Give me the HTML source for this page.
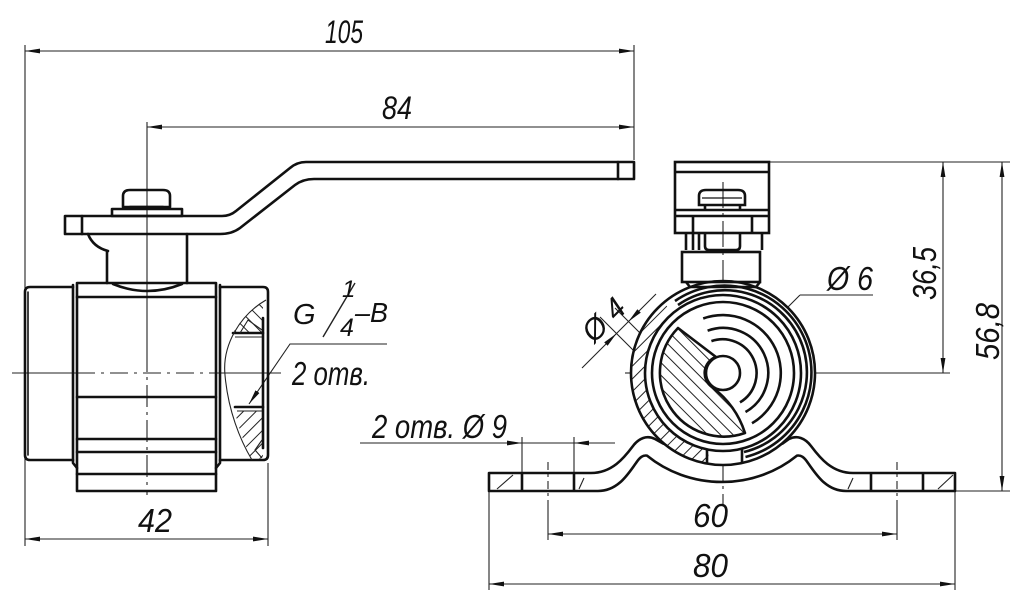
<!DOCTYPE html>
<html><head><meta charset="utf-8">
<style>
html,body{margin:0;padding:0;background:#fff;}
svg{display:block;}
text{font-family:"Liberation Sans","DejaVu Sans",sans-serif;font-style:italic;fill:#111;}
</style></head>
<body>
<svg width="1024" height="603" viewBox="0 0 1024 603" xmlns="http://www.w3.org/2000/svg">
<defs>
  <marker id="ar" viewBox="0 0 15 6" refX="15" refY="3" markerWidth="15" markerHeight="6" markerUnits="userSpaceOnUse" orient="auto-start-reverse">
    <path d="M0,0.6 L15,3 L0,5.4 Z" fill="#111"/>
  </marker>
  <pattern id="hA" patternUnits="userSpaceOnUse" width="9" height="9" patternTransform="rotate(45)">
    <line x1="4" y1="0" x2="4" y2="9" stroke="#222" stroke-width="1"/>
  </pattern>
  <pattern id="hB" patternUnits="userSpaceOnUse" width="9" height="9" patternTransform="rotate(-45)">
    <line x1="4" y1="0" x2="4" y2="9" stroke="#222" stroke-width="1"/>
  </pattern>
</defs>

<rect width="1024" height="603" fill="#fff"/>

<!-- ============ THIN LINES (dimensions, extension, centre lines) ============ -->
<g stroke="#222" stroke-width="1.1" fill="none">
  <line x1="25" y1="51" x2="634" y2="51" marker-start="url(#ar)" marker-end="url(#ar)"/>
  <line x1="25" y1="45" x2="25" y2="546"/>
  <line x1="634" y1="45" x2="634" y2="160"/>
  <line x1="147" y1="127" x2="634" y2="127" marker-start="url(#ar)" marker-end="url(#ar)"/>
  <line x1="147" y1="122" x2="147" y2="350"/>
  <line x1="147" y1="350" x2="147" y2="495" stroke-dasharray="22 5 3 5"/>
  <line x1="12" y1="373" x2="77" y2="373"/>
  <line x1="77" y1="373" x2="216" y2="373" stroke-dasharray="18 6 3 6"/>
  <line x1="216" y1="373" x2="281" y2="373"/>
  <line x1="25" y1="539" x2="268" y2="539" marker-start="url(#ar)" marker-end="url(#ar)"/>
  <line x1="268" y1="463" x2="268" y2="546"/>
  <polyline points="387,344 290,344 249,404" marker-end="url(#ar)"/>
  <line x1="323" y1="337" x2="355" y2="283" stroke-width="1.4"/>

  <line x1="770" y1="162" x2="1010" y2="162"/>
  <line x1="943" y1="162" x2="943" y2="373" marker-start="url(#ar)" marker-end="url(#ar)"/>
  <line x1="815" y1="373" x2="950" y2="373"/>
  <line x1="1002" y1="162" x2="1002" y2="491" marker-start="url(#ar)" marker-end="url(#ar)"/>
  <line x1="956" y1="491" x2="1010" y2="491"/>
  <line x1="625" y1="373" x2="815" y2="373" stroke-dasharray="22 5 3 5"/>
  <line x1="723" y1="182" x2="723" y2="505" stroke-dasharray="26 5 3 5"/>
  <line x1="873" y1="295" x2="800" y2="295"/>
  <line x1="800" y1="295" x2="690" y2="405"/>
  <line x1="615" y1="308" x2="742" y2="435"/>
  <line x1="600" y1="317" x2="700" y2="417"/>
  <line x1="582" y1="368" x2="616.5" y2="333.5" marker-end="url(#ar)"/>
  <line x1="656" y1="294" x2="628.5" y2="321.5" marker-end="url(#ar)"/>
  <line x1="616.5" y1="333.5" x2="628.5" y2="321.5"/>
  <line x1="360" y1="443" x2="522" y2="443" marker-end="url(#ar)"/>
  <line x1="615" y1="443" x2="574" y2="443" marker-end="url(#ar)"/>
  <line x1="522" y1="443" x2="574" y2="443"/>
  <line x1="522" y1="437" x2="522" y2="473"/>
  <line x1="574" y1="437" x2="574" y2="473"/>
  <line x1="548" y1="462" x2="548" y2="500" stroke-dasharray="8 4 3 4"/>
  <line x1="548" y1="500" x2="548" y2="540"/>
  <line x1="897" y1="462" x2="897" y2="500" stroke-dasharray="8 4 3 4"/>
  <line x1="897" y1="500" x2="897" y2="540"/>
  <line x1="548" y1="534" x2="897" y2="534" marker-start="url(#ar)" marker-end="url(#ar)"/>
  <line x1="489" y1="491" x2="489" y2="590"/>
  <line x1="955" y1="491" x2="955" y2="590"/>
  <line x1="489" y1="584" x2="955" y2="584" marker-start="url(#ar)" marker-end="url(#ar)"/>
</g>

<!-- ============ LEFT VIEW ============ -->
<path d="M266,300 C252,309 240,320 233,333 L263,333 L263,300 Z" fill="url(#hB)" stroke="none"/>
<path d="M235,411 L263,411 L263,458 L252,460 C245,445 238,428 235,411 Z" fill="url(#hA)" stroke="none"/>

<g fill="none" stroke="#111" stroke-width="2.6" stroke-linejoin="round" stroke-linecap="round">
  <path d="M65,216 L222,216 Q230,216 236,211 L290,168 Q297,162 306,162 L634,162 L634,179 L314,179 Q303,179 295,185 L240,228 Q232,234 220,234 L65,234 Z"/>
  <line x1="82" y1="216" x2="82" y2="234"/>
  <line x1="618" y1="162" x2="618" y2="179"/>
  <path d="M123,207 L123,196 Q123,190 130,190 L163,190 Q170,190 170,196 L170,207 Z"/>
  <rect x="112" y="209" width="70" height="7"/>
  <line x1="130" y1="207" x2="163" y2="207"/>
  <path d="M107,251 L107,283 M187,234 L187,283"/>
  <path d="M88,234 Q93,247 108,251"/>
  <rect x="77" y="283" width="139" height="208"/>
  <path d="M77,297 H216 M77,397 H216 M77,439 H216 M77,452 H216 M77,474 H216"/>
  <path d="M113,284 Q147,298 182,284"/>
  <path d="M73,287 H30 Q25,287 25,292 V455 Q25,460 30,460 H73"/>
  <path d="M73,285 V463 L77,468"/>
  <line x1="28" y1="292" x2="28" y2="455" stroke-width="1.6"/>
  <path d="M220,287 H263 Q268,287 268,292 V455 Q268,460 263,460 H220"/>
  <path d="M220,285 V463 L216,468"/>
  <line x1="263" y1="318" x2="263" y2="448"/>
  <path d="M233,333 H263 M235,407 H263"/>
</g>
<g fill="none" stroke="#222" stroke-width="1.1">
  <path d="M266,300 C240,315 222,345 225,375 C228,410 240,440 252,460"/>
  <path d="M235,337 H262 M237,411 H262"/>
  <path d="M240,333 L248,320 L262,330"/>
  <path d="M262,440 L255,450 L262,458"/>
</g>

<!-- ============ RIGHT VIEW ============ -->
<g fill="none" stroke="#111" stroke-width="2.6" stroke-linejoin="round">
  <path d="M664,444 L655,439 C647,435 639,438 633,446 C624,458 612,473 591,473 L489,473 L489,491 L598,491 C618,491 628,474 636,463 C640,457 643,455 647,455.6 A115,109 0 0 0 797,455.6 C801,455 804,457 808,463 C816,474 826,491 846,491 L955,491 L955,473 L853,473 C832,473 820,458 811,446 C805,438 797,435 789,439 L782,444"/>
  <path d="M522,473 V491 M574,473 V491 M871,473 V491 M923,473 V491"/>
</g>
<g stroke="#222" stroke-width="1.1">
  <line x1="497" y1="489" x2="513" y2="475"/>
  <line x1="579" y1="489" x2="584" y2="478"/>
  <line x1="848" y1="489" x2="853" y2="478"/>
  <line x1="938" y1="489" x2="953" y2="475"/>
</g>

<circle cx="723" cy="373" r="92" fill="#fff" stroke="none"/>
<path d="M707,463.6 A92,92 0 0 1 663.9,302.5 L672.9,313.3 A78,78 0 0 0 709.5,449.8 Z" fill="url(#hA)" stroke="none"/>
<path d="M678,328 L716,357 A17,17 0 0 0 712,387 Q736,405 745,433 A64,64 0 0 1 678,328 Z" fill="url(#hB)" stroke="#111" stroke-width="2.6" stroke-linejoin="round"/>

<g fill="none" stroke="#111" stroke-width="2.6">
  <circle cx="723" cy="373" r="92"/>
  <circle cx="723" cy="373" r="78"/>
  <circle cx="723" cy="373" r="71"/>
  <path d="M675,301 A87,87 0 1 1 745.5,457"/>
  <path d="M678,305 A82,82 0 1 1 744,452"/>
  <path d="M703.2,318.5 A58,58 0 0 1 752,423.2"/>
  <path d="M707.6,330.7 A45,45 0 0 1 745.5,412"/>
  <path d="M711.4,341.1 A34,34 0 0 1 740,402.4"/>
  <circle cx="723" cy="373" r="17" fill="#fff"/>
  <path d="M707,449 V463 M742,449 V463"/>
  <rect x="675" y="162" width="94" height="71"/>
  <line x1="675" y1="172" x2="769" y2="172"/>
  <path d="M699,205 L699,196 Q699,190 706,190 L738,190 Q745,190 745,196 L745,205 Z"/>
  <line x1="705" y1="205" x2="705" y2="210"/>
  <line x1="740" y1="205" x2="740" y2="210"/>
  <line x1="675" y1="210" x2="769" y2="210"/>
  <line x1="675" y1="216" x2="769" y2="216"/>
  <path d="M693,216 V233 M752,216 V233"/>
  <path d="M686,233 V250 M762,233 V250"/>
  <path d="M693,233 V250 M699,233 V250"/>
  <path d="M705,233 V246 Q705,250 709,250 L736,250 Q740,250 740,246 V233"/>
  <rect x="682" y="252" width="78" height="30"/>
  <path d="M686,282 L690,287 H756 L760,282"/>
</g>
<g stroke="#111" stroke-width="1.3">
  <line x1="702" y1="198" x2="742" y2="198"/>
</g>

<!-- ============ TEXT ============ -->
<text x="325" y="43" font-size="32" textLength="38" lengthAdjust="spacingAndGlyphs">105</text>
<text x="382" y="119" font-size="32" textLength="30" lengthAdjust="spacingAndGlyphs">84</text>
<text x="138" y="532" font-size="33" textLength="34" lengthAdjust="spacingAndGlyphs">42</text>
<text x="693" y="527" font-size="33" textLength="35" lengthAdjust="spacingAndGlyphs">60</text>
<text x="693" y="577" font-size="33" textLength="35" lengthAdjust="spacingAndGlyphs">80</text>
<text x="936" y="300" font-size="33" textLength="53" lengthAdjust="spacingAndGlyphs" transform="rotate(-90 936 300)">36,5</text>
<text x="999" y="360" font-size="33" textLength="57" lengthAdjust="spacingAndGlyphs" transform="rotate(-90 999 360)">56,8</text>
<text x="827" y="290" font-size="33" textLength="46" lengthAdjust="spacingAndGlyphs">Ø 6</text>
<text x="372" y="438" font-size="33" textLength="135" lengthAdjust="spacingAndGlyphs">2 отв. Ø 9</text>
<text x="293" y="324" font-size="29">G</text>
<text x="342" y="297" font-size="24">1</text>
<text x="340" y="336" font-size="25">4</text>
<text x="355" y="322" font-size="28" textLength="33" lengthAdjust="spacingAndGlyphs">–B</text>
<text x="292" y="385" font-size="33" textLength="78" lengthAdjust="spacingAndGlyphs">2 отв.</text>
<text x="594" y="344" font-size="30" textLength="48" lengthAdjust="spacingAndGlyphs" transform="rotate(-45 594 344)">Ø 4</text>
</svg>
</body></html>
